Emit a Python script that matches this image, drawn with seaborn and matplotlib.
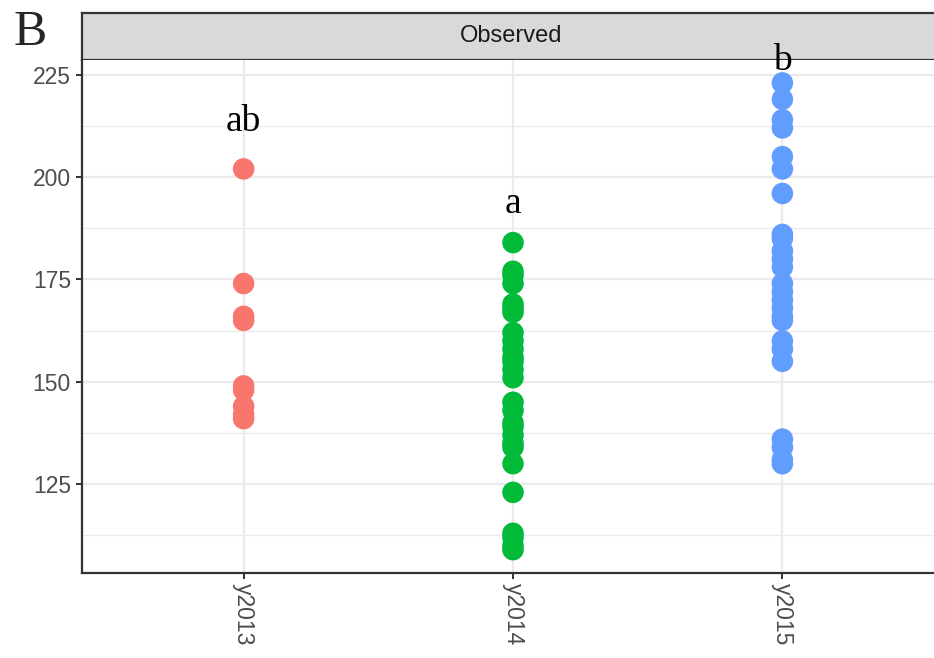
import numpy as np
import pandas as pd
import matplotlib
matplotlib.use("Agg")
import matplotlib.pyplot as plt
import seaborn as sns

# datos
years = ["y2013", "y2014", "y2015"]
obs_2013 = [202, 174, 166, 165, 149, 148, 144, 142, 141]
obs_2014 = [184, 177, 176, 174, 169, 168, 167, 162, 160, 158, 156, 155, 153, 151,
            145, 143, 140, 139, 137, 135, 134, 130, 123, 113, 112, 110, 109]
obs_2015 = [223, 219, 214, 212, 205, 202, 196, 186, 185, 182, 180, 178, 174, 172,
            170, 168, 166, 165, 160, 158, 155, 136, 134, 131, 130]
letras = ["ab", "a", "b"]
letras_y = [213.5, 193.5, 228.4]
colores = ["#F8766D", "#00BA38", "#619CFF"]

df = pd.DataFrame({
    "year": ["y2013"] * len(obs_2013) + ["y2014"] * len(obs_2014) + ["y2015"] * len(obs_2015),
    "value": obs_2013 + obs_2014 + obs_2015,
})

sns.set_theme(style="white")
plt.rcParams["font.family"] = ["Liberation Sans", "DejaVu Sans"]

W, H = 934, 658
fig = plt.figure(figsize=(W / 100, H / 100), dpi=100)
x0, x1 = 82, 944
yb, yt = 573, 60
ax = fig.add_axes([x0 / W, 1 - yb / H, (x1 - x0) / W, (yb - yt) / H])
ax.set_zorder(2)

sns.stripplot(data=df, x="year", y="value", hue="year", order=years, hue_order=years,
              palette=colores, jitter=False, size=15.5, linewidth=0, legend=False,
              ax=ax, zorder=3)

ax.set_xlim(-0.6, 2.6)
ax.set_ylim(103.3, 228.6)
ax.set_yticks([125, 150, 175, 200, 225])
ax.set_yticks([112.5, 137.5, 162.5, 187.5, 212.5], minor=True)
ax.grid(True, which="major", color="#EBEBEB", linewidth=1.6, zorder=0)
ax.grid(True, which="minor", axis="y", color="#EBEBEB", linewidth=0.9, zorder=0)
ax.set_axisbelow(True)
ax.set_xlabel("")
ax.set_ylabel("")
for s in ["top", "right"]:
    ax.spines[s].set_visible(False)
for s in ["left", "bottom"]:
    ax.spines[s].set_color("#333333")
    ax.spines[s].set_linewidth(1.6)
ax.tick_params(axis="both", which="major", length=4.5, width=1.4, color="#333333",
               labelcolor="#4D4D4D", labelsize=16.5, left=True, bottom=True)
ax.tick_params(axis="y", which="minor", length=0)
ax.tick_params(axis="x", labelrotation=270, pad=3)

for i, (t, yv) in enumerate(zip(letras, letras_y)):
    ax.text(i, yv, t, ha="center", va="center", fontsize=27, clip_on=False,
            family=["Liberation Serif", "DejaVu Serif"], color="black", zorder=5)

# franja superior (facet)
st = fig.add_axes([x0 / W, 1 - 60 / H, (x1 - x0) / W, 47 / H])
st.set_zorder(1)
st.set_facecolor("#D9D9D9")
st.set_xticks([])
st.set_yticks([])
for s in st.spines.values():
    s.set_color("#333333")
    s.set_linewidth(1.6)
st.text((511 - x0) / (x1 - x0), 0.5, "Observed", transform=st.transAxes, ha="center",
        va="center", fontsize=17, color="#1A1A1A")

fig.text(14 / W, 1 - 33 / H, "B", fontsize=36, ha="left", va="center",
         family=["Liberation Serif", "DejaVu Serif"])

fig.savefig("out.png", dpi=100)
